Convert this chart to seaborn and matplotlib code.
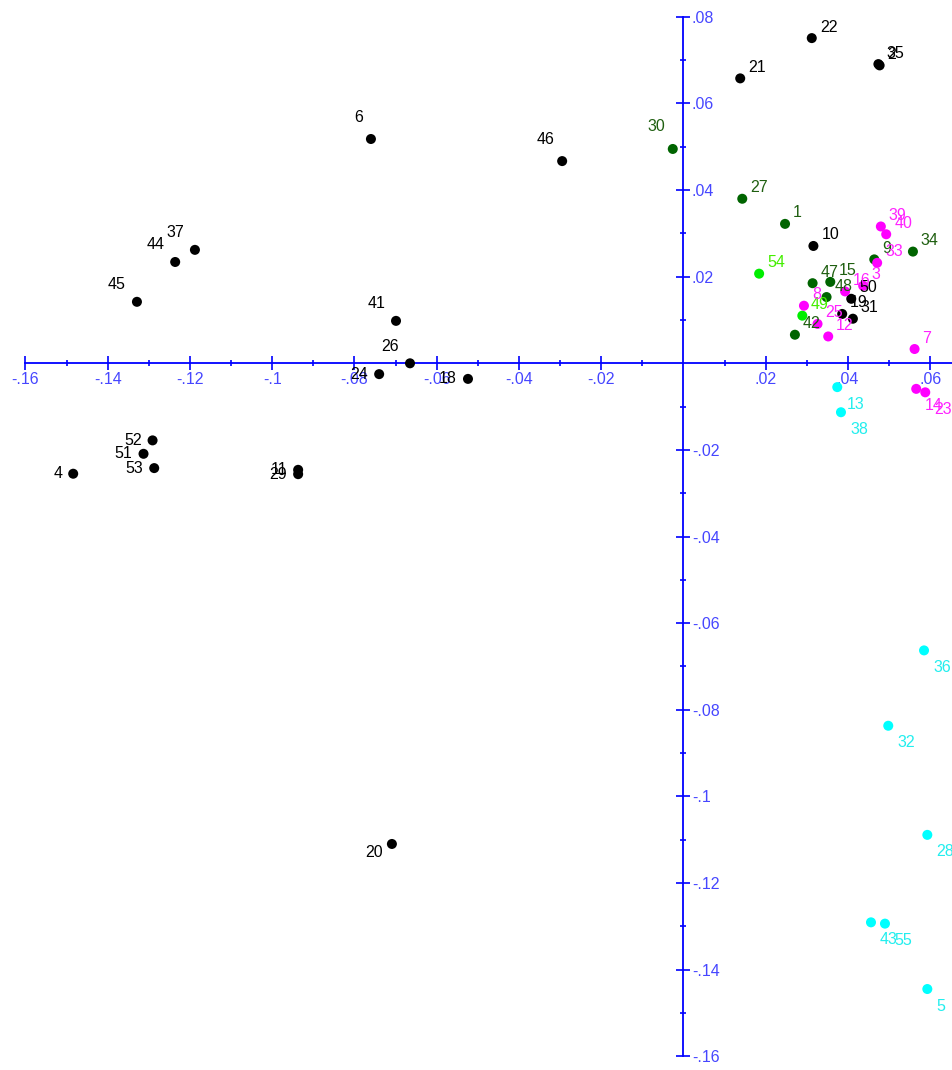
import matplotlib
matplotlib.use("Agg")
import matplotlib.pyplot as plt
import matplotlib.ticker as mticker
import seaborn as sns
import pandas as pd

# ---------------- data ----------------
black_ids = [2, 35, 21, 22, 6, 46, 10, 37, 44, 45, 41, 26, 24, 18, 52, 51, 53, 4, 11, 29, 20, 50, 19, 31]
black_x = [0.0477, 0.0474, 0.0138, 0.0312, -0.0760, -0.0295, 0.0316, -0.1188, -0.1236, -0.1329, -0.0699,
           -0.0665, -0.0740, -0.0524, -0.1291, -0.1313, -0.1287, -0.1484, -0.0937, -0.0937, -0.0709,
           0.0408, 0.0386, 0.0412]
black_y = [0.0688, 0.0691, 0.0658, 0.0751, 0.0518, 0.0467, 0.0271, 0.0262, 0.0234, 0.0142, 0.0098,
           0.0000, -0.0025, -0.0036, -0.0178, -0.0209, -0.0242, -0.0255, -0.0246, -0.0256, -0.1110,
           0.0149, 0.0114, 0.0103]

dkgreen_ids = [1, 27, 30, 34, 9, 47, 15, 48, 42]
dkgreen_x = [0.0247, 0.0143, -0.0026, 0.0558, 0.0464, 0.0314, 0.0357, 0.0348, 0.0271]
dkgreen_y = [0.0322, 0.0380, 0.0495, 0.0258, 0.0240, 0.0185, 0.0188, 0.0153, 0.0066]

lime_ids = [54, 49]
lime_x = [0.0184, 0.0289]
lime_y = [0.0207, 0.0110]

magenta_ids = [39, 40, 33, 3, 16, 8, 25, 12, 7, 14, 23]
magenta_x = [0.0480, 0.0493, 0.0471, 0.0437, 0.0393, 0.0293, 0.0326, 0.0352, 0.0562, 0.0566, 0.0588]
magenta_y = [0.0316, 0.0298, 0.0232, 0.0179, 0.0166, 0.0133, 0.0091, 0.0062, 0.0033, -0.0059, -0.0067]

cyan_ids = [13, 38, 36, 32, 28, 43, 55, 5]
cyan_x = [0.0374, 0.0383, 0.0585, 0.0498, 0.0593, 0.0456, 0.0490, 0.0593]
cyan_y = [-0.0055, -0.0113, -0.0663, -0.0837, -0.1089, -0.1291, -0.1294, -0.1445]

x_ticks = [-0.16, -0.14, -0.12, -0.10, -0.08, -0.06, -0.04, -0.02, 0.02, 0.04, 0.06]
y_ticks = [0.08, 0.06, 0.04, 0.02, -0.02, -0.04, -0.06, -0.08, -0.10, -0.12, -0.14, -0.16]
x_minor = [-0.15, -0.13, -0.11, -0.09, -0.07, -0.05, -0.03, -0.01, 0.01, 0.03, 0.05]
y_minor = [0.07, 0.05, 0.03, 0.01, -0.01, -0.03, -0.05, -0.07, -0.09, -0.11, -0.13, -0.15]

# ---------------- styles ----------------
palette = {"black": "#000000", "dkgreen": "#006400", "lime": "#00ee00",
           "magenta": "#ff00ff", "cyan": "#00ffff"}
label_colors = {"black": "#000000", "dkgreen": "#1f5f10", "lime": "#44ee00",
                "magenta": "#ff22ff", "cyan": "#22eeee"}

# label placement (pixel offsets, alignment)
place = {
    "ur": (8, 11, "left"),
    "ul": (-11, 17, "right"),
    "ul2": (-8, 22, "right"),
    "l": (-11, 0, "right"),
    "dl": (-9, -9, "right"),
    "dr": (9, -17, "left"),
}
label_pos = {6: "ul2", 46: "ul2", 30: "ul2", 37: "ul", 44: "ul", 45: "ul", 41: "ul", 26: "ul",
             24: "l", 18: "l", 52: "l", 51: "l", 53: "l", 4: "l", 11: "l", 29: "l", 20: "dl"}
for i in cyan_ids + [14, 23]:
    label_pos[i] = "dr"

frames = []
for g, ids, xs, ys in [("black", black_ids, black_x, black_y),
                       ("dkgreen", dkgreen_ids, dkgreen_x, dkgreen_y),
                       ("lime", lime_ids, lime_x, lime_y),
                       ("magenta", magenta_ids, magenta_x, magenta_y),
                       ("cyan", cyan_ids, cyan_x, cyan_y)]:
    frames.append(pd.DataFrame({"id": ids, "x": xs, "y": ys, "group": g}))
df = pd.concat(frames, ignore_index=True)

sns.set_style("white")
plt.rcParams["font.family"] = ["Liberation Sans", "DejaVu Sans"]

fig = plt.figure(figsize=(9.52, 10.70), dpi=100)
ax = fig.add_axes([0, 0, 1, 1])
ax.set_facecolor("white")

sns.scatterplot(data=df, x="x", y="y", hue="group", palette=palette, s=52,
                linewidth=0, legend=False, ax=ax, zorder=3, clip_on=False)

for _, r in df.iterrows():
    dx, dy, ha = place[label_pos.get(r["id"], "ur")]
    ax.annotate(str(r["id"]), (r["x"], r["y"]), xytext=(dx, dy), textcoords="offset pixels",
                ha=ha, va="center", fontsize=11.5, color=label_colors[r["group"]], zorder=4)

ax.set_xlim(-0.1662, 0.0653)
ax.set_ylim(-0.1632, 0.0839)
ax.set_xlabel("")
ax.set_ylabel("")

blue = "#0000ff"
ax.spines["top"].set_visible(False)
ax.spines["left"].set_visible(False)
ax.spines["bottom"].set_position(("data", 0))
ax.spines["right"].set_position(("data", 0))
for s in ("bottom", "right"):
    ax.spines[s].set_color(blue)
    ax.spines[s].set_linewidth(1.3)
ax.spines["bottom"].set_bounds(-0.16, 0.0653)
ax.spines["right"].set_bounds(-0.16, 0.08)
ax.yaxis.set_ticks_position("right")
ax.xaxis.set_ticks_position("bottom")


def fmt(v, pos=None):
    v = round(v, 4)
    if abs(v) < 1e-9:
        return ""
    s = f"{v:g}"
    return s.replace("0.", ".")


ax.xaxis.set_major_locator(mticker.FixedLocator(x_ticks))
ax.yaxis.set_major_locator(mticker.FixedLocator(y_ticks))
ax.xaxis.set_minor_locator(mticker.FixedLocator(x_minor))
ax.yaxis.set_minor_locator(mticker.FixedLocator(y_minor))
ax.xaxis.set_major_formatter(mticker.FuncFormatter(fmt))
ax.yaxis.set_major_formatter(mticker.FuncFormatter(fmt))

ax.tick_params(which="major", direction="inout", length=10, width=1.2, color=blue,
               labelsize=11.5, labelcolor="#4646ff")
ax.tick_params(which="minor", direction="inout", length=5, width=1.2, color=blue)
ax.tick_params(axis="x", pad=1)
ax.tick_params(axis="y", pad=1)
ax.grid(False)

fig.savefig("out.png", dpi=100)
